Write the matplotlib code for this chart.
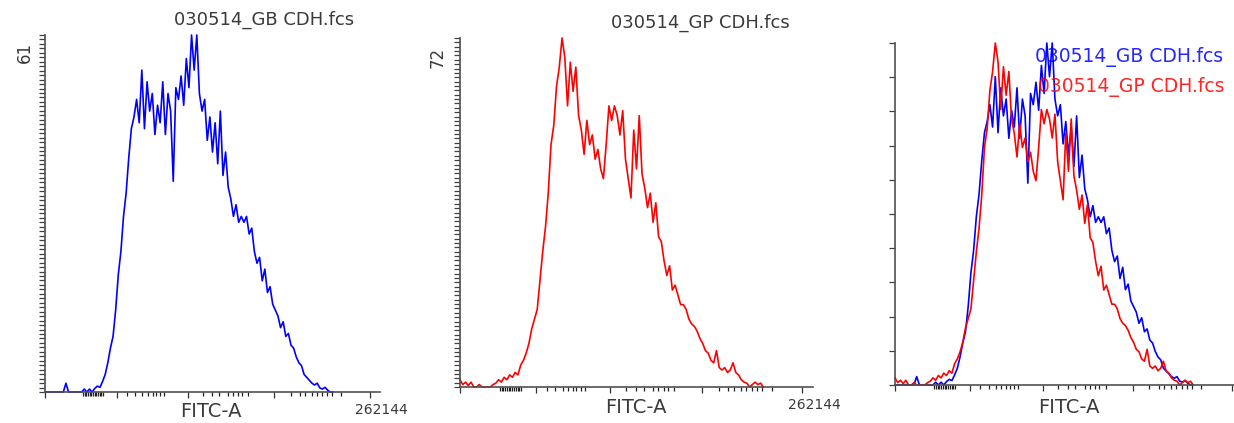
import matplotlib
matplotlib.use("Agg")
import matplotlib.pyplot as plt
from matplotlib.ticker import FixedLocator, NullLocator

# histogram channels (display scale 0..256) and event counts
channels = list(range(0, 222, 2))

gb_counts = [
    0, 0, 0, 0, 0, 0, 0, 0, 1.5, 0,
    0, 0, 0, 0, 0, 0.5, 0, 0.5, 0, 0.6,
    1, 0.8, 1.8, 3, 5, 7.5, 9.5, 14, 20, 24,
    30, 34, 40, 45, 47, 50, 46, 55, 45, 53,
    48, 51, 44, 49, 46, 53, 44, 51, 48, 36,
    52, 50, 54, 49, 57, 52, 61, 55, 61, 51,
    48, 50, 43, 47, 41, 46, 39, 48, 37, 41,
    35, 33, 30, 32, 29, 30, 29, 30, 27, 28,
    24, 22, 23, 19, 21, 17, 18, 15, 14, 13,
    11, 12, 9.5, 10, 8, 7.5, 6, 5, 4.5, 3,
    2.5, 2, 1.5, 1.2, 1.5, 0.7, 0.5, 0.8, 0.3, 0,
    0,
]

gp_counts = [
    1.5, 0.5, 1, 0.3, 1, 0, 0, 0.5, 0, 0,
    0, 0, 0.5, 0.8, 1.5, 1, 2, 1.5, 2.5, 2,
    3, 2.5, 4.5, 5.5, 7, 9, 12, 14, 16, 22,
    28, 33, 40, 50, 54, 62, 66, 72, 68, 58,
    67, 61, 66, 56, 53, 48, 55, 50, 52, 47,
    49, 45, 43, 50, 58, 55, 58, 56, 52, 57,
    47, 43, 39, 53, 45, 56, 44, 41, 37, 40,
    34, 38, 31, 30, 26, 23, 25, 20, 21, 19,
    17, 17, 16, 14, 13, 12.5, 11.5, 10, 9, 7.5,
    7, 5.5, 5, 7.5, 4, 3.5, 4, 3, 3.5, 5,
    3, 2.5, 1.5, 1, 0.8, 0, 0.5, 1, 0.5, 0.8,
    0,
]

sample_names = ["030514_GB CDH.fcs", "030514_GP CDH.fcs"]
sample_colors = ["#0000ff", "#ff0000"]
axis_label = "FITC-A"
x_max_label = "262144"

# biexponential-looking FITC-A axis ticks, as fractions of the axis width
major_frac = [0, 0.216, 0.426, 0.685, 0.970]
minor_frac = (
    [0.113, 0.118, 0.123, 0.128, 0.133, 0.138, 0.143, 0.148, 0.153, 0.158, 0.163, 0.168, 0.173]
    + [0.246, 0.270, 0.291, 0.306, 0.321, 0.330, 0.342, 0.354]
    + [0.471, 0.498, 0.520, 0.547, 0.562, 0.577, 0.589, 0.607]
    + [0.733, 0.760, 0.775, 0.796, 0.811, 0.826, 0.841, 0.856, 0.883]
)

W, H = 1234, 423
CH_MAX = 256
TEXT = "#3a3a3a"
AXIS = "#505050"

fig = plt.figure(figsize=(W / 100, H / 100), dpi=100)


def px_axes(left, top, right, bottom):
    return fig.add_axes([left / W, 1 - bottom / H, (right - left) / W, (bottom - top) / H])


def style_axes(ax, ymax, n_yticks, ylen):
    ax.set_xlim(0, CH_MAX)
    ax.set_ylim(0, ymax)
    for side in ["top", "right"]:
        ax.spines[side].set_visible(False)
    for side in ["left", "bottom"]:
        ax.spines[side].set_color(AXIS)
        ax.spines[side].set_linewidth(1.2)
        ax.spines[side].set_zorder(3)
    ax.xaxis.set_major_locator(FixedLocator([f * CH_MAX for f in major_frac]))
    ax.xaxis.set_minor_locator(FixedLocator([f * CH_MAX for f in minor_frac]))
    ax.tick_params(axis="x", which="both", labelbottom=False)
    ax.tick_params(axis="x", which="major", direction="out", length=4.5, width=0.9, color="#303030")
    ax.tick_params(axis="x", which="minor", direction="out", length=3, width=0.9, color="#202020")
    ax.yaxis.set_major_locator(FixedLocator([ymax * i / n_yticks for i in range(n_yticks + 1)]))
    ax.yaxis.set_minor_locator(NullLocator())
    ax.tick_params(axis="y", which="major", direction="out", length=ylen, width=0.9,
                   color="#404040", labelleft=False)
    ax.patch.set_alpha(0)


def ftext(x, y, s, **kw):
    fig.text(x / W, 1 - y / H, s, **kw)


# panel 1: GB
ax1 = px_axes(45, 35, 380, 392)
ax1.plot(channels, gb_counts, color=sample_colors[0], lw=1.2, clip_on=False)
style_axes(ax1, max(gb_counts), 80, 4)
ftext(264, 20, sample_names[0], fontsize=13, color=TEXT, ha="center", va="center")
ftext(25, 52, f"{max(gb_counts):.0f}", fontsize=12, color=TEXT, rotation=90, ha="center", va="center")
ftext(211, 411, axis_label, fontsize=14, color=TEXT, ha="center", va="center")
ftext(381, 410, x_max_label, fontsize=10, color=TEXT, ha="center", va="center")

# panel 2: GP
ax2 = px_axes(460, 38, 813, 387)
ax2.plot(channels, gp_counts, color=sample_colors[1], lw=1.2, clip_on=False)
style_axes(ax2, max(gp_counts), 80, 4)
ftext(700, 23, sample_names[1], fontsize=13, color=TEXT, ha="center", va="center")
ftext(438, 57, f"{max(gp_counts):.0f}", fontsize=12, color=TEXT, rotation=90, ha="center", va="center")
ftext(636, 407, axis_label, fontsize=14, color=TEXT, ha="center", va="center")
ftext(814, 405, x_max_label, fontsize=10, color=TEXT, ha="center", va="center")

# panel 3: overlay, normalized to mode
ax3 = px_axes(895, 43, 1242, 385)
for counts, color in zip([gb_counts, gp_counts], sample_colors):
    peak = max(counts)
    ax3.plot(channels, [c / peak * 100 for c in counts], color=color, lw=1.2, clip_on=False)
style_axes(ax3, 100, 10, 4)
ftext(1069, 407, axis_label, fontsize=14, color=TEXT, ha="center", va="center")
ftext(1223, 57, sample_names[0], fontsize=13.5, color=sample_colors[0], ha="right", va="center", alpha=0.85)
ftext(1225, 87, sample_names[1], fontsize=13.5, color=sample_colors[1], ha="right", va="center", alpha=0.85)

fig.savefig("out.png", dpi=100)
